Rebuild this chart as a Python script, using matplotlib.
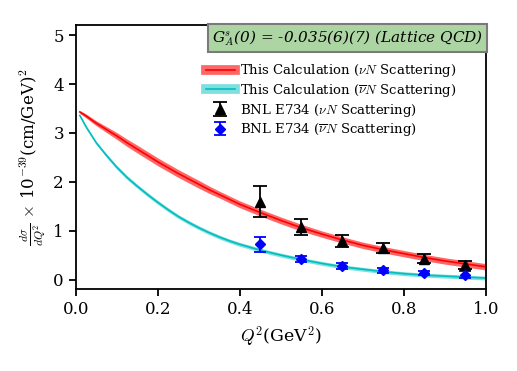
import numpy as np
import matplotlib
matplotlib.use("Agg")
import matplotlib.pyplot as plt

plt.rcParams['font.family'] = ['DejaVu Serif']
plt.rcParams['mathtext.fontset'] = 'cm'

# theory curves
q2_curve = [0.01, 0.025, 0.05, 0.075, 0.10, 0.125, 0.15, 0.175, 0.20, 0.225,
            0.25, 0.275, 0.30, 0.325, 0.35, 0.375, 0.40, 0.45, 0.50,
            0.55, 0.60, 0.65, 0.70, 0.75, 0.80, 0.85, 0.90, 0.95, 1.00]
nu_calc = [3.43, 3.35, 3.20, 3.07, 2.94, 2.80, 2.67, 2.54, 2.41, 2.29,
           2.17, 2.06, 1.95, 1.84, 1.74, 1.64, 1.54, 1.37, 1.21,
           1.06, 0.93, 0.81, 0.70, 0.61, 0.53, 0.45, 0.38, 0.32, 0.26]
nu_calc_err = [0.03, 0.04, 0.05, 0.06, 0.07, 0.075, 0.08, 0.08, 0.08, 0.08,
               0.08, 0.08, 0.08, 0.075, 0.07, 0.07, 0.07, 0.07, 0.07,
               0.07, 0.065, 0.065, 0.065, 0.065, 0.065, 0.065, 0.065, 0.065, 0.065]
nubar_calc = [3.36, 3.13, 2.80, 2.54, 2.30, 2.09, 1.91, 1.74, 1.58, 1.43,
              1.29, 1.17, 1.06, 0.96, 0.87, 0.79, 0.72, 0.60, 0.50,
              0.41, 0.33, 0.26, 0.21, 0.16, 0.12, 0.09, 0.07, 0.05, 0.03]
nubar_calc_err = [0.02, 0.025, 0.03, 0.035, 0.04, 0.04, 0.04, 0.04, 0.04, 0.04,
                  0.04, 0.04, 0.04, 0.04, 0.04, 0.04, 0.04, 0.04, 0.04,
                  0.04, 0.04, 0.04, 0.04, 0.04, 0.04, 0.04, 0.04, 0.04, 0.04]

# BNL E734 data
q2_data = [0.45, 0.55, 0.65, 0.75, 0.85, 0.95]
nu_data = [1.59, 1.07, 0.79, 0.64, 0.43, 0.29]
nu_data_err = [0.32, 0.16, 0.12, 0.10, 0.10, 0.08]
nubar_data = [0.72, 0.42, 0.27, 0.19, 0.13, 0.10]
nubar_data_err = [0.16, 0.07, 0.06, 0.05, 0.04, 0.07]

x = np.array(q2_curve)
nu = np.array(nu_calc)
nub = np.array(nubar_calc)

fig = plt.figure(figsize=(5.17, 3.71), dpi=100)
ax = fig.add_axes([0.1464, 0.2202, 0.7936, 0.7111])

ax.fill_between(x, nu - np.array(nu_calc_err), nu + np.array(nu_calc_err),
                color='red', alpha=0.6, lw=0)
ax.plot(x, nu, color='red', lw=1.2)
ax.fill_between(x, nub - np.array(nubar_calc_err), nub + np.array(nubar_calc_err),
                color='c', alpha=0.5, lw=0)
ax.plot(x, nub, color='c', lw=1.2)

# proxy handles for the bands
h1 = (plt.Line2D([], [], color='red', lw=7, alpha=0.6),
      plt.Line2D([], [], color='red', lw=1.2))
h2 = (plt.Line2D([], [], color='c', lw=7, alpha=0.5),
      plt.Line2D([], [], color='c', lw=1.2))

h3 = ax.errorbar(q2_data, nu_data, yerr=nu_data_err, fmt='^', color='black',
                 ms=7, capsize=5, elinewidth=1.3, capthick=1.3)
h4 = ax.errorbar(q2_data, nubar_data, yerr=nubar_data_err, fmt='D', color='blue',
                 ms=5, capsize=4, elinewidth=1.3, capthick=1.3)

ax.legend([h1, h2, h3, h4],
          [r'This Calculation ($\nu N$ Scattering)',
           r'This Calculation ($\overline{\nu}N$ Scattering)',
           r'BNL E734 ($\nu N$ Scattering)',
           r'BNL E734 ($\overline{\nu}N$ Scattering)'],
          loc='upper left', bbox_to_anchor=(0.295, 0.895), frameon=False,
          fontsize=9.5, handlelength=2.2, handletextpad=0.4, labelspacing=0.2,
          borderpad=0.2)

ax.text(0.993, 0.99, r'G$^s_A$(0) = -0.035(6)(7) (Lattice QCD)',
        transform=ax.transAxes, ha='right', va='top', fontsize=11,
        style='italic',
        bbox=dict(boxstyle='square,pad=0.25', facecolor='#acd5a3',
                  edgecolor='#7a7a7a', lw=1.5))

ax.set_xlim(0, 1.0)
ax.set_ylim(-0.2, 5.2)
ax.set_xticks([0.0, 0.2, 0.4, 0.6, 0.8, 1.0])
ax.set_yticks([0, 1, 2, 3, 4, 5])
ax.tick_params(labelsize=12, width=1.3, length=5)
for s in ax.spines.values():
    s.set_linewidth(1.3)

ax.set_xlabel(r'$Q^2$(GeV$^2$)', fontsize=12.5, labelpad=5)
ax.set_ylabel(r'$\frac{d\sigma}{dQ^2}$ $\times$ 10$^{-39}$(cm/GeV)$^2$', fontsize=12)

fig.savefig('out.png', dpi=100)
